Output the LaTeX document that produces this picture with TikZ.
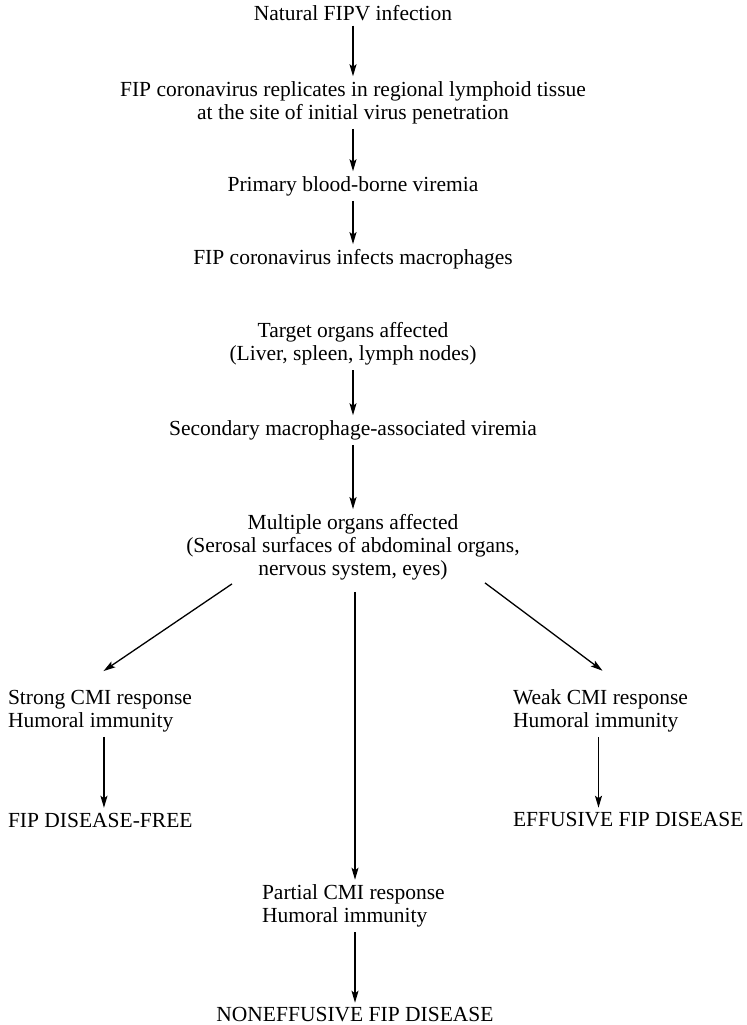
\documentclass[tikz,border=0pt]{standalone}
\usepackage{fontspec}
\setmainfont{Liberation Serif}
\usetikzlibrary{arrows.meta}
\begin{document}
\begin{tikzpicture}[x=1bp,y=-1bp,
  lbl/.style={inner sep=0pt, outer sep=0pt, font=\fontsize{21.5bp}{23bp}\selectfont, align=center},
  lbll/.style={lbl, align=left, anchor=west},
  arrd/.style={line width=1.3bp, -{Stealth[length=12bp,width=7bp,inset=2.5bp]}},
  arr/.style={arrd, shorten <=5bp, shorten >=5bp}]
\useasboundingbox (0,0) rectangle (747,1025);
\node[lbl] (n1) at (353,13) {Natural FIPV infection};
\node[lbl] (n2) at (353,102.5) {FIP coronavirus replicates in regional lymphoid tissue\\at the site of initial virus penetration};
\node[lbl] (n3) at (353,186) {Primary blood-borne viremia};
\node[lbl] (n4) at (353,259) {FIP coronavirus infects macrophages};
\node[lbl] (n5) at (353,344) {Target organs affected\\(Liver, spleen, lymph nodes)};
\node[lbl] (n6) at (353,430) {Secondary macrophage-associated viremia};
\node[lbl] (n7) at (353,547) {Multiple organs affected\\(Serosal surfaces of abdominal organs,\\nervous system, eyes)};
\node[lbll] (n8) at (8,711) {Strong CMI response\\Humoral immunity};
\node[lbll] (n9) at (8,820) {FIP DISEASE-FREE};
\node[lbll] (n10) at (513,711) {Weak CMI response\\Humoral immunity};
\node[lbll] (n11) at (513,820) {EFFUSIVE FIP DISEASE};
\node[lbll] (n12) at (262,906) {Partial CMI response\\Humoral immunity};
\node[lbl] (n13) at (355,1015) {NONEFFUSIVE FIP DISEASE};

\draw[arr] (n1) -- (n2);
\draw[arr] (n2) -- (n3);
\draw[arr] (n3) -- (n4);
\draw[arr] (n5) -- (n6);
\draw[arr] (n6) -- (n7);
\draw[arrd] ([xshift=-121bp,yshift=-4bp]n7.south) -- ([xshift=3.5bp,yshift=19bp]n8.north);
\draw[arrd] ([xshift=132bp,yshift=-3bp]n7.south) -- ([xshift=2bp,yshift=19bp]n10.north);
\draw[arrd, shorten >=5bp] ([xshift=2bp,yshift=-12bp]n7.south) -- ([xshift=2bp]n7.south |- n12.north);
\draw[arr] ([xshift=4bp]n8.south) -- ([xshift=4bp]n8.south |- n9.north);
\draw[arr] ([xshift=-2bp]n10.south) -- ([xshift=-2bp]n10.south |- n11.north);
\draw[arr] (n13.north |- n12.south) -- (n13.north);
\end{tikzpicture}
\end{document}
